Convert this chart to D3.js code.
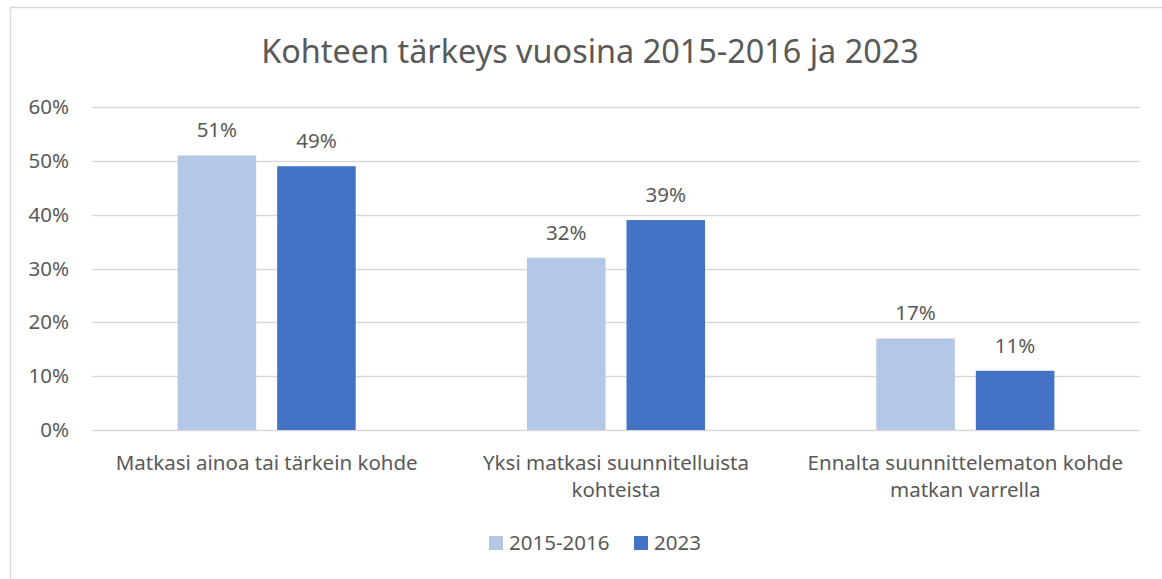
<!DOCTYPE html>
<html>
<head>
<meta charset="utf-8">
<script src="https://cdn.jsdelivr.net/npm/d3@7"></script>
<style>
  body { margin: 0; background: #fff; }
  text { font-family: "Noto Sans", sans-serif; fill: #595959; }
</style>
</head>
<body>
<svg id="chart" width="1162" height="579"></svg>
<script>
// data
var categories = [
  ["Matkasi ainoa tai tärkein kohde"],
  ["Yksi matkasi suunnitelluista", "kohteista"],
  ["Ennalta suunnittelematon kohde", "matkan varrella"]
];
var seriesNames = ["2015-2016", "2023"];
var values2015 = [51, 32, 17];
var values2023 = [49, 39, 11];
var yTicks = [0, 10, 20, 30, 40, 50, 60];
var colors = ["#B4C7E7", "#4472C4"];

var svg = d3.select("#chart");
var plotLeft = 92, plotRight = 1140, plotTop = 107, plotBottom = 430;
var fontSize = "20.5px";

// chart frame
svg.append("rect")
  .attr("x", 10.5).attr("y", 7.5)
  .attr("width", 1200).attr("height", 700)
  .attr("fill", "none")
  .attr("stroke", "#D9D9D9")
  .attr("stroke-width", 1.5);

svg.append("text")
  .attr("x", 590).attr("y", 63)
  .attr("text-anchor", "middle")
  .style("font-size", "32.4px")
  .text("Kohteen tärkeys vuosina 2015-2016 ja 2023");

var y = d3.scaleLinear().domain([0, 60]).range([plotBottom, plotTop]);
var x0 = d3.scaleBand().domain(d3.range(categories.length)).range([plotLeft, plotRight]);
var x1 = d3.scaleBand().domain(seriesNames).range([0, x0.bandwidth()])
  .paddingInner(0.211).paddingOuter(0.86);

// gridlines
svg.append("g").selectAll("line").data(yTicks).enter().append("line")
  .attr("x1", plotLeft).attr("x2", plotRight)
  .attr("y1", function(d){ return Math.round(y(d)) + 0.5; })
  .attr("y2", function(d){ return Math.round(y(d)) + 0.5; })
  .attr("stroke", "#D9D9D9")
  .attr("stroke-width", 1.5);

// y tick labels
svg.append("g").selectAll("text").data(yTicks).enter().append("text")
  .attr("x", 69)
  .attr("y", function(d){ return y(d) + 7; })
  .attr("text-anchor", "end")
  .style("font-size", fontSize)
  .text(function(d){ return d + "%"; });

var rows = [];
categories.forEach(function(c, i){
  rows.push({cat: i, s: seriesNames[0], v: values2015[i], color: colors[0]});
  rows.push({cat: i, s: seriesNames[1], v: values2023[i], color: colors[1]});
});

svg.append("g").selectAll("rect").data(rows).enter().append("rect")
  .attr("x", function(d){ return x0(d.cat) + x1(d.s); })
  .attr("y", function(d){ return y(d.v); })
  .attr("width", x1.bandwidth())
  .attr("height", function(d){ return y(0) - y(d.v); })
  .attr("fill", function(d){ return d.color; });

// data labels
svg.append("g").selectAll("text").data(rows).enter().append("text")
  .attr("x", function(d){ return x0(d.cat) + x1(d.s) + x1.bandwidth() / 2; })
  .attr("y", function(d){ return y(d.v) - 18; })
  .attr("text-anchor", "middle")
  .style("font-size", fontSize)
  .text(function(d){ return d.v + "%"; });

// category labels
var cat = svg.append("g").selectAll("text").data(categories).enter().append("text")
  .attr("text-anchor", "middle")
  .style("font-size", fontSize);
cat.each(function(lines, i){
  d3.select(this).selectAll("tspan").data(lines).enter().append("tspan")
    .attr("x", x0(i) + x0.bandwidth() / 2)
    .attr("y", function(d, j){ return 470 + j * 27; })
    .text(function(d){ return d; });
});

// legend
var legendX = [489, 634];
var legend = svg.append("g").selectAll("g").data(seriesNames).enter().append("g");
legend.append("rect")
  .attr("x", function(d, i){ return legendX[i]; })
  .attr("y", 536)
  .attr("width", 14).attr("height", 14)
  .attr("fill", function(d, i){ return colors[i]; });
legend.append("text")
  .attr("x", function(d, i){ return legendX[i] + 20; })
  .attr("y", 550)
  .style("font-size", fontSize)
  .text(function(d){ return d; });
</script>
</body>
</html>
